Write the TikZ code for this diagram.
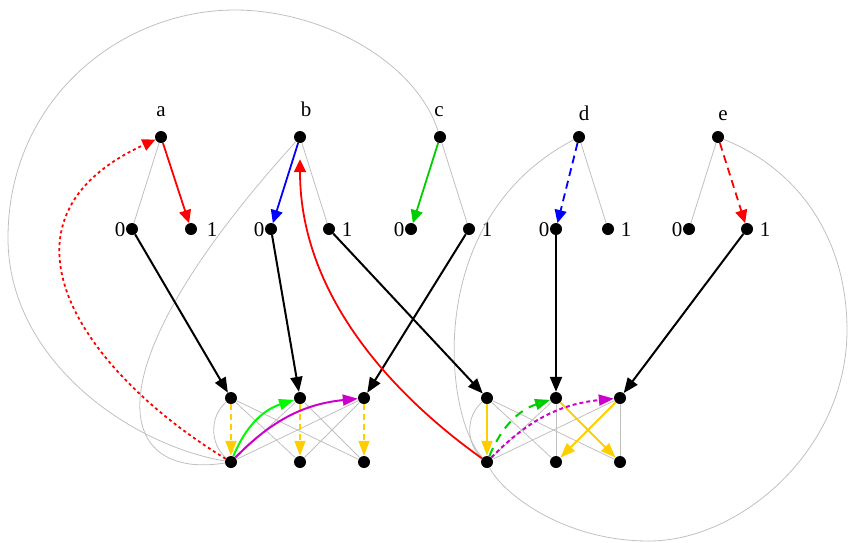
\documentclass[tikz,border=0pt]{standalone}
\usepackage{fontspec}
\setmainfont{Liberation Serif}
\usetikzlibrary{arrows.meta}
\definecolor{edgegray}{RGB}{192,192,192}
\definecolor{gold}{RGB}{255,206,0}
\definecolor{grn}{RGB}{0,205,0}
\definecolor{lgrn}{RGB}{0,250,0}
\definecolor{mag}{RGB}{205,0,205}

\begin{document}
\begin{tikzpicture}[x=1pt,y=-1pt,
     vtx/.style={circle,fill=black,inner sep=0pt,minimum size=12pt},
     lab/.style={font=\fontsize{21}{24}\selectfont,inner sep=0pt,anchor=base},
     gry/.style={draw=edgegray,line width=0.8pt},
     blk/.style={line width=2pt,-{Triangle[length=15pt,width=12pt]}},
     opn/.style={line width=1.8pt,-{Triangle[length=13pt,width=12pt]}},
     fil/.style={line width=2pt,-{Triangle[length=15pt,width=11pt]}}]
    \useasboundingbox (0,0) rectangle (848,542);
    % variables and their two values
    \node[vtx] (a) at (161,137) {}; \node[vtx] (b) at (300,137) {};
    \node[vtx] (c) at (440,137) {}; \node[vtx] (d) at (579,137) {};
    \node[vtx] (e) at (718,137) {};
    \node[lab] (la) at (161,116) {a}; \node[lab] (lb) at (306,116) {b};
    \node[lab] (lc) at (439,116) {c}; \node[lab] (ld) at (584,120) {d};
    \node[lab] (le) at (723,120) {e};
    \node[vtx] (a0) at (132,229) {}; \node[vtx] (a1) at (191,229) {};
    \node[vtx] (b0) at (271,229) {}; \node[vtx] (b1) at (329,229) {};
    \node[vtx] (c0) at (411,229) {}; \node[vtx] (c1) at (469,229) {};
    \node[vtx] (d0) at (556,229) {}; \node[vtx] (d1) at (608,229) {};
    \node[vtx] (e0) at (689,229) {}; \node[vtx] (e1) at (747,229) {};
    \node[lab] (la0) at (120,236) {0}; \node[lab] (la1) at (212,236) {1};
    \node[lab] (lb0) at (259,236) {0}; \node[lab] (lb1) at (347,236) {1};
    \node[lab] (lc0) at (399,236) {0}; \node[lab] (lc1) at (487,236) {1};
    \node[lab] (ld0) at (544,236) {0}; \node[lab] (ld1) at (626,236) {1};
    \node[lab] (le0) at (677,236) {0}; \node[lab] (le1) at (765,236) {1};
    % the two clusters
    \node[vtx] (lt1) at (231,398) {}; \node[vtx] (lt2) at (300,398) {};
    \node[vtx] (lt3) at (364,398) {};
    \node[vtx] (lu1) at (231,462) {}; \node[vtx] (lu2) at (300,462) {};
    \node[vtx] (lu3) at (364,462) {};
    \node[vtx] (rt1) at (487,398) {}; \node[vtx] (rt2) at (556,398) {};
    \node[vtx] (rt3) at (620,398) {};
    \node[vtx] (ru1) at (487,462) {}; \node[vtx] (ru2) at (556,462) {};
    \node[vtx] (ru3) at (620,462) {};
    % grey structure
    \draw[gry] (a) -- (a0); \draw[gry] (b) -- (b1); \draw[gry] (c) -- (c1);
    \draw[gry] (d) -- (d1); \draw[gry] (e) -- (e0);
    \draw[gry] (lt1) -- (lu2); \draw[gry] (lt1) -- (lu3);
    \draw[gry] (lt2) -- (lu1); \draw[gry] (lt2) -- (lu3);
    \draw[gry] (lt3) -- (lu1); \draw[gry] (lt3) -- (lu2);
    \draw[gry] (lt1) to[bend right=50] (lu1);
    \draw[gry] (rt1) -- (ru2); \draw[gry] (rt1) -- (ru3);
    \draw[gry] (rt2) -- (ru1); \draw[gry] (rt2) -- (ru2);
    \draw[gry] (rt3) -- (ru1); \draw[gry] (rt3) -- (ru3);
    \draw[gry] (rt1) to[bend right=50] (ru1);
    \draw[gry] (c) .. controls (415,60) and (320,10) .. (235,10)
      .. controls (120,10) and (8,100) .. (8,238)
      .. controls (8,360) and (130,445) .. (lu1);
    \draw[gry] (b) .. controls (80,380) and (120,480) .. (lu1);
    \draw[gry] (d) .. controls (420,220) and (445,420) .. (ru1);
    \draw[gry] (e) .. controls (800,170) and (847,240) .. (847,330)
      .. controls (847,450) and (740,541) .. (649,541)
      .. controls (560,541) and (500,490) .. (ru1);
    % choices at the top
    \draw[opn,red] (a) -- (a1);
    \draw[opn,blue] (b) -- (b0);
    \draw[opn,grn] (c) -- (c0);
    \draw[opn,blue,dash pattern=on 8pt off 5pt] (d) -- (d0);
    \draw[opn,red,dash pattern=on 8pt off 5pt] (e) -- (e1);
    % values into the clusters
    \draw[blk] (a0) -- (lt1); \draw[blk] (b0) -- (lt2);
    \draw[blk] (c1) -- (lt3); \draw[blk] (b1) -- (rt1);
    \draw[blk] (d0) -- (rt2); \draw[blk] (e1) -- (rt3);
    % inside the clusters
    \draw[fil,gold,dash pattern=on 6pt off 4pt] (lt1) -- (lu1);
    \draw[fil,gold,dash pattern=on 6pt off 4pt] (lt2) -- (lu2);
    \draw[fil,gold,dash pattern=on 6pt off 4pt] (lt3) -- (lu3);
    \draw[fil,lgrn] (lu1) to[bend left=25] (lt2);
    \draw[fil,mag] (lu1) to[bend left=20] (lt3);
    \draw[fil,gold] (rt1) -- (ru1);
    \draw[fil,gold] (rt2) -- (ru3);
    \draw[fil,gold] (rt3) -- (ru2);
    \draw[fil,grn,dash pattern=on 9pt off 7pt] (ru1) to[bend left=25] (rt2);
    \draw[fil,mag,dash pattern=on 4pt off 3pt] (ru1) to[bend left=20] (rt3);
    % back to the top
    \draw[opn,red,dash pattern=on 3pt off 3pt] (lu1) .. controls (80,370) and (-20,220) .. (a);
    \draw[opn,red,shorten >=16pt] (ru1) .. controls (400,400) and (300,300) .. (b);
\end{tikzpicture}
\end{document}
